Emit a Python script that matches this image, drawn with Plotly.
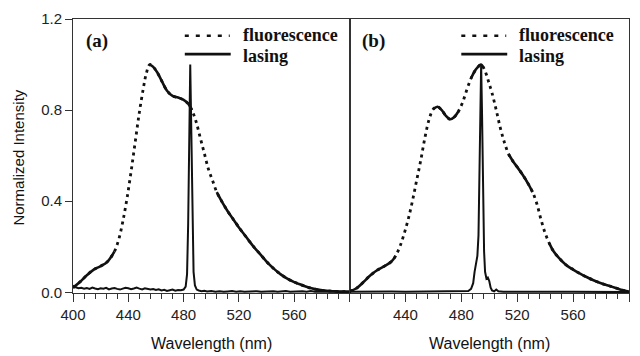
import plotly.graph_objects as go

# ---------------- data ----------------
# Panel (a)
fa_wl = [400, 405, 410, 415, 420, 425, 430, 433, 436, 439, 442, 445, 448, 451, 453, 455.5,
         458, 461, 464, 468, 472, 476, 480, 483, 486, 489, 492, 495, 498, 501, 504, 508,
         512, 516, 520, 525, 530, 535, 540, 545, 550, 555, 560, 565, 570, 575, 580, 585,
         590, 595, 600]
fa_int = [0.02, 0.045, 0.075, 0.10, 0.115, 0.135, 0.18, 0.23, 0.31, 0.41, 0.53, 0.66, 0.79,
          0.90, 0.96, 1.0, 0.99, 0.965, 0.93, 0.885, 0.862, 0.855, 0.845, 0.83, 0.80, 0.75,
          0.68, 0.61, 0.54, 0.49, 0.44, 0.395, 0.355, 0.32, 0.285, 0.245, 0.205, 0.17, 0.135,
          0.105, 0.08, 0.06, 0.045, 0.033, 0.022, 0.014, 0.009, 0.006, 0.004, 0.003, 0.003]

la_wl = [400, 402, 404, 406, 408, 410, 412, 414, 416, 418, 420, 422, 424, 426, 428, 430,
         432, 434, 436, 438, 440, 442, 444, 446, 448, 450, 452, 454, 456, 458, 460, 462,
         464, 466, 468, 470, 472, 474, 476, 478, 480, 481.5, 482.5, 483.3, 484, 484.8,
         485.6, 486.3, 487.2, 488.2, 489.5, 491, 493, 495, 497, 500, 503, 506, 509, 512,
         515, 518, 521, 524, 527, 530, 533, 536, 539, 542, 545, 548, 551, 554, 557, 560,
         563, 566, 569, 572, 575, 578, 581, 584, 587, 590, 594, 598, 600]
la_int = [0.03, 0.022, 0.018, 0.02, 0.016, 0.019, 0.015, 0.021, 0.017, 0.014, 0.018, 0.016,
          0.02, 0.013, 0.017, 0.019, 0.015, 0.012, 0.016, 0.02, 0.018, 0.014, 0.017, 0.021,
          0.016, 0.013, 0.018, 0.015, 0.012, 0.014, 0.01, 0.013, 0.008, 0.011, 0.006, 0.009,
          0.012, 0.007, 0.01, 0.009, 0.012, 0.025, 0.08, 0.3, 0.7, 1.0, 0.7, 0.3, 0.09, 0.03,
          0.012, 0.008, 0.005, 0.007, 0.004, 0.006, 0.003, 0.005, 0.002, 0.004, 0.006, 0.003,
          0.005, 0.002, 0.004, 0.003, 0.005, 0.002, 0.004, 0.003, 0.005, 0.002, 0.004, 0.006,
          0.003, 0.004, 0.002, 0.005, 0.003, 0.006, 0.003, 0.005, 0.004, 0.002, 0.004, 0.003,
          0.002, 0.001, 0.0]

# Panel (b)
fb_wl = [400, 405, 410, 415, 420, 425, 430, 433, 436, 439, 442, 445, 448, 451, 454, 457,
         460, 463, 466, 469, 472, 475, 478, 481, 484, 487, 490, 492, 494, 496, 498, 500,
         502, 505, 508, 511, 514, 517, 520, 524, 528, 531, 534, 537, 540, 543, 546, 550,
         555, 560, 565, 570, 575, 580, 585, 590, 595, 600]
fb_int = [0.004, 0.018, 0.045, 0.075, 0.098, 0.115, 0.135, 0.16, 0.2, 0.255, 0.32, 0.40,
          0.49, 0.58, 0.68, 0.76, 0.805, 0.815, 0.80, 0.775, 0.76, 0.77, 0.795, 0.835, 0.89,
          0.94, 0.975, 0.99, 1.0, 0.985, 0.955, 0.915, 0.875, 0.80, 0.72, 0.655, 0.605,
          0.575, 0.55, 0.515, 0.475, 0.44, 0.39, 0.32, 0.26, 0.215, 0.18, 0.15, 0.12, 0.10,
          0.082, 0.066, 0.052, 0.04, 0.03, 0.02, 0.01, 0.003]

lb_wl = [400, 410, 420, 430, 440, 450, 460, 470, 480, 485, 487, 488.5, 489.5, 490.5, 491.5,
         492.3, 493, 493.7, 494.2, 494.8, 495.5, 496.3, 497, 498, 499, 500, 501, 502, 503.5,
         505, 506.5, 510, 520, 530, 540, 560, 580, 600]
lb_int = [0.003, 0.004, 0.003, 0.004, 0.003, 0.004, 0.003, 0.004, 0.004, 0.006, 0.015, 0.04,
          0.09, 0.13, 0.16, 0.25, 0.55, 0.95, 1.0, 0.8, 0.45, 0.18, 0.09, 0.06, 0.065, 0.05,
          0.02, 0.008, 0.004, 0.012, 0.005, 0.003, 0.002, 0.003, 0.002, 0.002, 0.002, 0.001]

x_ticks_a = [400, 440, 480, 520, 560, 600]
x_labels_a = ["400", "440", "480", "520", "560", ""]
x_ticks_b = [400, 440, 480, 520, 560, 600]
x_labels_b = ["", "440", "480", "520", "560", "600"]
y_ticks = [0.0, 0.4, 0.8, 1.2]
y_labels = ["0.0", "0.4", "0.8", "1.2"]

# ---------------- layout geometry ----------------
W, H = 640, 356
ML, MR, MT, MB = 73, 10, 16, 63
PW, PH = W - ML - MR, H - MT - MB
SPLIT = 350  # px where panel (b) starts
D = (SPLIT - ML) / PW


def px_x(px):
    return (px - ML) / PW


def px_y(py):
    return (H - MB - py) / PH


INK = "#111111"
SLOPE_FLAT = 0.0125  # below this local slope the sampled dashed curve looks solid


def flat_runs(xs, ys):
    """Return x/y lists (None separated) covering segments with shallow slope."""
    ox, oy = [], []
    prev_flat = False
    for i in range(len(xs) - 1):
        s = abs((ys[i + 1] - ys[i]) / (xs[i + 1] - xs[i]))
        flat = s < SLOPE_FLAT
        if flat:
            if not prev_flat:
                if ox:
                    ox.append(None)
                    oy.append(None)
                ox.append(xs[i])
                oy.append(ys[i])
            ox.append(xs[i + 1])
            oy.append(ys[i + 1])
        prev_flat = flat
    return ox, oy


fig = go.Figure()

for (fwl, fint, lwl, lint, xa, ya) in [
    (fa_wl, fa_int, la_wl, la_int, "x", "y"),
    (fb_wl, fb_int, lb_wl, lb_int, "x2", "y2"),
]:
    # fluorescence: dotted everywhere
    fig.add_trace(go.Scatter(x=fwl, y=fint, mode="lines", xaxis=xa, yaxis=ya,
                             line=dict(color=INK, width=2.8, dash="3px,4px", shape="spline"),
                             showlegend=False, hoverinfo="skip"))
    # fluorescence: solid where the curve is shallow
    sx, sy = flat_runs(fwl, fint)
    fig.add_trace(go.Scatter(x=sx, y=sy, mode="lines", xaxis=xa, yaxis=ya,
                             line=dict(color=INK, width=2.6, shape="spline"),
                             connectgaps=False, showlegend=False, hoverinfo="skip"))
    # lasing
    fig.add_trace(go.Scatter(x=lwl, y=lint, mode="lines", xaxis=xa, yaxis=ya,
                             line=dict(color=INK, width=2.0),
                             showlegend=False, hoverinfo="skip"))

tickfont = dict(family="Liberation Sans, Arial, sans-serif", size=15, color="#222222")
xcommon = dict(range=[400, 600], showline=True, linecolor="#333333", linewidth=1,
               mirror=True, ticks="outside", ticklen=8, tickwidth=1, tickcolor="#333333",
               tickmode="array", showgrid=False, zeroline=False, tickfont=tickfont,
               minor=dict(tickmode="linear", tick0=400, dtick=8, ticks="outside",
                          ticklen=5, tickwidth=1, tickcolor="#333333", showgrid=False))

fig.update_layout(
    width=W, height=H,
    margin=dict(l=ML, r=MR, t=MT, b=MB, pad=0),
    paper_bgcolor="white", plot_bgcolor="white",
    xaxis=dict(domain=[0, D], anchor="y", tickvals=x_ticks_a, ticktext=x_labels_a, **xcommon),
    xaxis2=dict(domain=[D, 1], anchor="y2", tickvals=x_ticks_b, ticktext=x_labels_b, **xcommon),
    yaxis=dict(domain=[0, 1], anchor="x", range=[-0.003, 1.2], showline=True,
               linecolor="#333333", linewidth=1, mirror=True, ticks="outside", ticklen=7,
               tickcolor="#333333", tickmode="array", tickvals=y_ticks, ticktext=y_labels,
               showgrid=False, zeroline=False, tickfont=tickfont),
    yaxis2=dict(domain=[0, 1], anchor="x2", matches="y", showline=True,
                linecolor="#333333", linewidth=1, mirror=True, ticks="",
                showticklabels=False, showgrid=False, zeroline=False),
    showlegend=False,
)

ann = []
title_font = dict(family="Liberation Sans, Arial, sans-serif", size=16, color="#111111")
for cx in [(ML + SPLIT) / 2, (SPLIT + W - MR) / 2]:
    ann.append(dict(text="Wavelength (nm)", xref="paper", yref="paper", x=px_x(cx),
                    y=px_y(344), xanchor="center", yanchor="middle", showarrow=False,
                    font=title_font))
ann.append(dict(text="Normalized Intensity", xref="paper", yref="paper", x=px_x(18),
                y=px_y(156), xanchor="center", yanchor="middle", textangle=-90,
                showarrow=False, font=dict(family="Liberation Sans, Arial, sans-serif",
                                           size=15, color="#111111")))

serif = dict(family="Liberation Serif, Times New Roman, serif", size=18, color="#111111")
shapes = []
for x0, lab in [(ML, "(a)"), (SPLIT, "(b)")]:
    ann.append(dict(text="<b>%s</b>" % lab, xref="paper", yref="paper", x=px_x(x0 + 11),
                    y=px_y(38), xanchor="left", yanchor="middle", showarrow=False,
                    font=dict(serif, size=19)))
    ann.append(dict(text="<b>fluorescence</b>", xref="paper", yref="paper",
                    x=px_x(x0 + 168), y=px_y(32), xanchor="left", yanchor="middle",
                    showarrow=False, font=serif))
    ann.append(dict(text="<b>lasing</b>", xref="paper", yref="paper",
                    x=px_x(x0 + 168), y=px_y(53.5), xanchor="left", yanchor="middle",
                    showarrow=False, font=serif))
    shapes.append(dict(type="line", xref="paper", yref="paper",
                       x0=px_x(x0 + 112), x1=px_x(x0 + 157), y0=px_y(33), y1=px_y(33),
                       line=dict(color=INK, width=2.6, dash="4px,7px")))
    shapes.append(dict(type="line", xref="paper", yref="paper",
                       x0=px_x(x0 + 112), x1=px_x(x0 + 158), y0=px_y(51.5), y1=px_y(51.5),
                       line=dict(color=INK, width=2.6)))

fig.update_layout(annotations=ann, shapes=shapes)
fig.write_html("out.html")
